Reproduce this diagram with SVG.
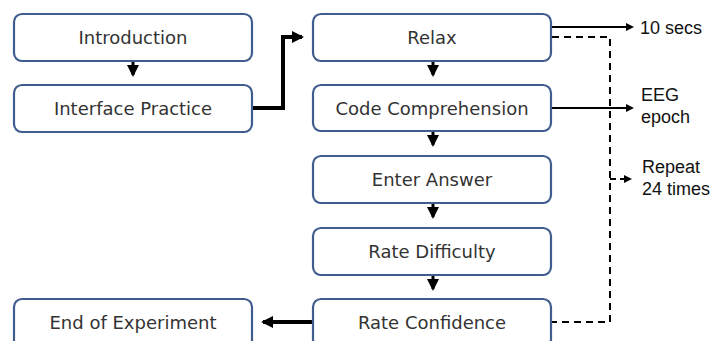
<svg xmlns="http://www.w3.org/2000/svg" width="716" height="341" viewBox="0 0 716 341">
<style>
.box{fill:#fff;stroke:#3f5d8f;stroke-width:2.2}
.t{font-family:"DejaVu Sans","Liberation Sans",sans-serif;font-size:18px;fill:#333;text-anchor:middle}
.l{font-family:"Liberation Sans",Arial,sans-serif;font-size:18px;fill:#111}
.c{fill:none;stroke:#000}
</style>
<defs>
<marker id="ah" markerWidth="8" markerHeight="8" refX="6" refY="4" orient="auto" markerUnits="userSpaceOnUse"><path d="M0,0 L8,4 L0,8 z" fill="#000"/></marker>
<marker id="ab" markerWidth="12" markerHeight="12" refX="10" refY="6" orient="auto" markerUnits="userSpaceOnUse"><path d="M0,0 L12,6 L0,12 z" fill="#000"/></marker>
</defs>
<g id="connectors">
<path class="c" d="M133,61 V75" stroke-width="3" marker-end="url(#ab)"/>
<path class="c" d="M252,108 H283 V37 H302" stroke-width="4" marker-end="url(#ab)"/>
<path class="c" d="M433,61 V75" stroke-width="3" marker-end="url(#ab)"/>
<path class="c" d="M433,131 V145" stroke-width="3" marker-end="url(#ab)"/>
<path class="c" d="M433,203 V217" stroke-width="3" marker-end="url(#ab)"/>
<path class="c" d="M433,275 V289" stroke-width="3" marker-end="url(#ab)"/>
<path class="c" d="M313,322 H263" stroke-width="4" marker-end="url(#ab)"/>
<path class="c" d="M552,27 H632" stroke-width="2" marker-end="url(#ah)"/>
<path class="c" d="M552,108 H632" stroke-width="2" marker-end="url(#ah)"/>
<path class="c" d="M552,37 H610 V322 H552" stroke-width="2" stroke-dasharray="7,5"/>
<path class="c" d="M610,179 H630" stroke-width="2" stroke-dasharray="6,4" marker-end="url(#ah)"/>
</g>
<g id="intro"><rect class="box" x="14" y="14" width="238" height="47" rx="8"/><text class="t" x="133" y="44">Introduction</text></g>
<g id="practice"><rect class="box" x="14" y="85" width="238" height="47" rx="8"/><text class="t" x="133" y="115">Interface Practice</text></g>
<g id="relax"><rect class="box" x="313" y="14" width="238" height="47" rx="8"/><text class="t" x="432" y="44">Relax</text></g>
<g id="code"><rect class="box" x="313" y="85" width="238" height="46" rx="8"/><text class="t" x="432" y="115">Code Comprehension</text></g>
<g id="answer"><rect class="box" x="313" y="156" width="238" height="47" rx="8"/><text class="t" x="432" y="186">Enter Answer</text></g>
<g id="difficulty"><rect class="box" x="313" y="228" width="238" height="47" rx="8"/><text class="t" x="432" y="258">Rate Difficulty</text></g>
<g id="confidence"><rect class="box" x="313" y="299" width="238" height="50" rx="8"/><text class="t" x="432" y="329">Rate Confidence</text></g>
<g id="end"><rect class="box" x="14" y="299" width="238" height="50" rx="8"/><text class="t" x="133" y="329">End of Experiment</text></g>
<g id="labels">
<text class="l" x="640" y="34">10 secs</text>
<text class="l" x="641" y="101">EEG</text>
<text class="l" x="641" y="123">epoch</text>
<text class="l" x="642" y="173">Repeat</text>
<text class="l" x="642" y="195">24 times</text>
</g>
</svg>
